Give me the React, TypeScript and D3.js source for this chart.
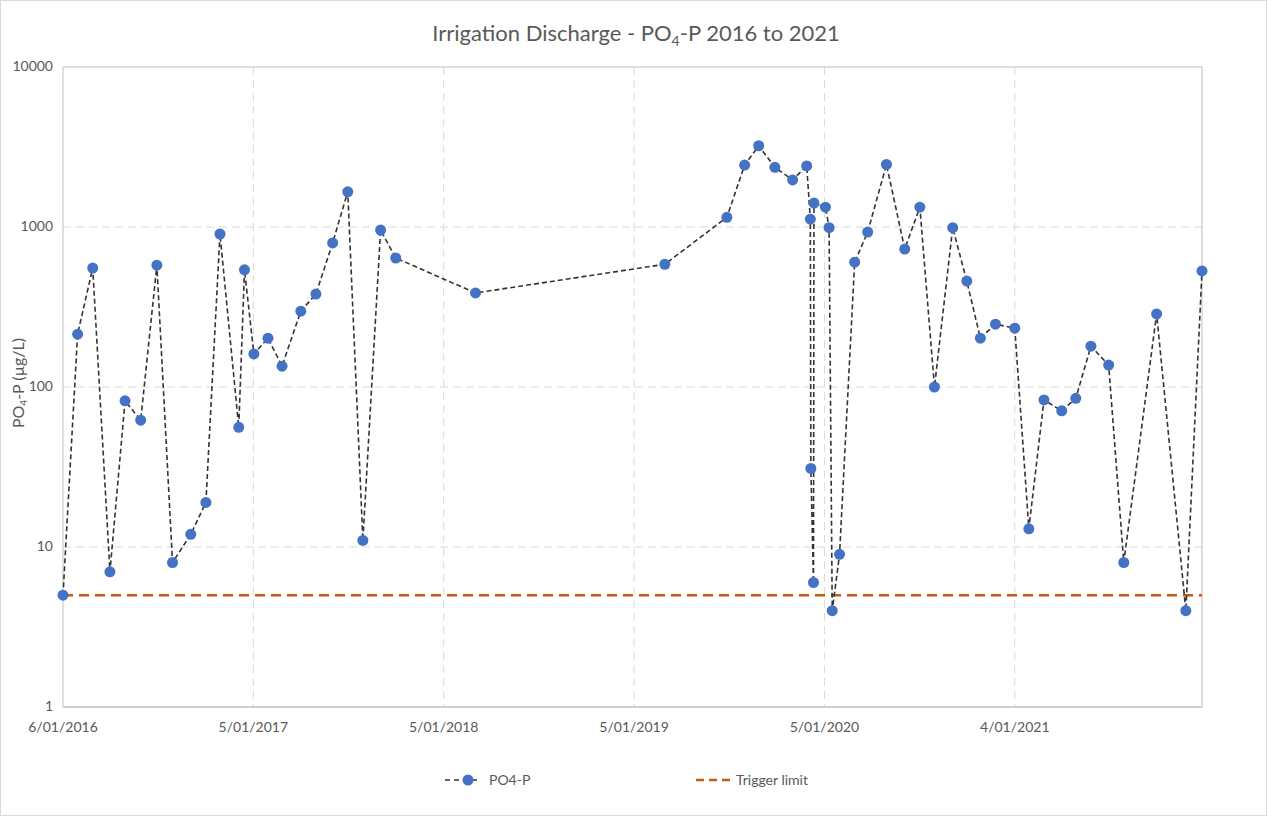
import React from "react";
import * as d3 from "d3";

const sampleDates: string[] = [
  "2016-01-06", "2016-02-03", "2016-03-03", "2016-04-05", "2016-05-04", "2016-06-03",
  "2016-07-04", "2016-08-03", "2016-09-07", "2016-10-06", "2016-11-02", "2016-12-08",
  "2016-12-19", "2017-01-06", "2017-02-02", "2017-03-01", "2017-04-06", "2017-05-05",
  "2017-06-06", "2017-07-05", "2017-08-03", "2017-09-06", "2017-10-05", "2018-03-07",
  "2019-03-05", "2019-07-02", "2019-08-05", "2019-09-01", "2019-10-02", "2019-11-05",
  "2019-12-02", "2019-12-09", "2019-12-10", "2019-12-15", "2019-12-16", "2020-01-07",
  "2020-01-14", "2020-01-20", "2020-02-03", "2020-03-03", "2020-03-28", "2020-05-03",
  "2020-06-07", "2020-07-06", "2020-08-03", "2020-09-07", "2020-10-04", "2020-10-30",
  "2020-11-28", "2021-01-04", "2021-01-31", "2021-03-01", "2021-04-04", "2021-05-01",
  "2021-05-30", "2021-07-03", "2021-08-01", "2021-10-03", "2021-11-28", "2021-12-29",
];

const po4Values: number[] = [
  5, 214, 554, 7, 82, 62,
  577, 8, 12, 19, 904, 56,
  540, 161, 202, 135, 298, 381,
  795, 1660, 11, 957, 640, 387,
  585, 1150, 2440, 3220, 2360, 1970,
  2410, 1120, 31, 6, 1410, 1330,
  990, 4, 9, 603, 930, 2460,
  728, 1330, 100, 990, 459, 202,
  247, 233, 13, 83, 71, 85,
  180, 137, 8, 286, 4, 531,
];

const triggerLimit = 5;
const xTickDates: string[] = ["2016-01-06", "2017-01-05", "2018-01-05", "2019-01-05", "2020-01-05", "2021-01-04"];
const xTickLabels: string[] = ["6/01/2016", "5/01/2017", "5/01/2018", "5/01/2019", "5/01/2020", "4/01/2021"];
const yTicks: number[] = [1, 10, 100, 1000, 10000];
const xDomain: string[] = ["2016-01-06", "2021-12-29"];

const W = 1267;
const H = 816;
const left = 63;
const right = 1202;
const top = 67;
const bottom = 707;
const FONT = "Lato, 'Open Sans', sans-serif";
const TXT = "#595959";

export default function App() {
  const parse = d3.utcParse("%Y-%m-%d");
  const x = d3
    .scaleUtc()
    .domain([parse(xDomain[0])!, parse(xDomain[1])!])
    .range([left, right]);
  const y = d3.scaleLog().domain([1, 10000]).range([bottom, top]);

  const pts = sampleDates.map((d, i) => ({ d: parse(d)!, v: po4Values[i] }));
  const line = d3
    .line<{ d: Date; v: number }>()
    .x((p) => x(p.d))
    .y((p) => y(p.v));

  return (
    <svg
      width={W}
      height={H}
      style={{ position: "absolute", left: 0, top: 0, background: "#fff" }}
      fontFamily={FONT}
    >
      <rect x={0.5} y={0.5} width={W - 1} height={H - 1} fill="#fff" stroke="#d9d9d9" />
      {/* title */}
      <text x={636} y={41} textAnchor="middle" fontSize={22} fill={TXT}>
        Irrigation Discharge - PO
        <tspan fontSize={14} dy={5}>4</tspan>
        <tspan dy={-5}>-P 2016 to 2021</tspan>
      </text>

      {/* gridlines */}
      {yTicks.slice(1, 4).map((t) => (
        <line key={"gy" + t} x1={left} x2={right} y1={y(t)} y2={y(t)} stroke="#d9d9d9" strokeDasharray="8,5" />
      ))}
      {xTickDates.slice(1).map((t) => (
        <line key={"gx" + t} x1={x(parse(t)!)} x2={x(parse(t)!)} y1={top} y2={bottom} stroke="#d9d9d9" strokeDasharray="8,5" />
      ))}

      {/* plot border */}
      <line x1={left} x2={right} y1={top} y2={top} stroke="#bfbfbf" />
      <line x1={right} x2={right} y1={top} y2={bottom} stroke="#bfbfbf" />
      <line x1={left} x2={left} y1={top} y2={bottom} stroke="#bfbfbf" />
      <line x1={left} x2={right} y1={bottom} y2={bottom} stroke="#bfbfbf" strokeWidth={1.5} />

      {/* y tick labels */}
      {yTicks.map((t) => (
        <text key={"yl" + t} x={53} y={y(t) + 4} textAnchor="end" fontSize={14} fill={TXT}>
          {t}
        </text>
      ))}
      {/* x tick labels */}
      {xTickDates.map((t, i) => (
        <text key={"xl" + t} x={x(parse(t)!)} y={732} textAnchor="middle" fontSize={14} fill={TXT}>
          {xTickLabels[i]}
        </text>
      ))}

      {/* y axis title */}
      <text
        transform={`translate(24, ${(top + bottom) / 2 - 4}) rotate(-90)`}
        textAnchor="middle"
        fontSize={16}
        fill={TXT}
      >
        PO<tspan fontSize={10} dy={3}>4</tspan>
        <tspan dy={-3}>-P (µg/L)</tspan>
      </text>

      {/* trigger limit */}
      <line
        x1={left}
        x2={right}
        y1={y(triggerLimit)}
        y2={y(triggerLimit)}
        stroke="#c55a11"
        strokeWidth={2.5}
        strokeDasharray="10,6"
      />

      {/* series */}
      <path d={line(pts) || ""} fill="none" stroke="#333333" strokeWidth={1.6} strokeDasharray="5,3" />
      {pts.map((p, i) => (
        <circle key={"pt" + i} cx={x(p.d)} cy={y(p.v)} r={5.5} fill="#4472c4" />
      ))}

      {/* legend */}
      <line x1={445} x2={477} y1={780} y2={780} stroke="#333333" strokeWidth={1.6} strokeDasharray="5,4" />
      <circle cx={468} cy={780} r={5.5} fill="#4472c4" />
      <text x={489} y={785} fontSize={14} fill={TXT}>PO4-P</text>
      <line x1={696} x2={732} y1={780} y2={780} stroke="#c55a11" strokeWidth={2.5} strokeDasharray="8,5" />
      <text x={736} y={785} fontSize={14} fill={TXT}>Trigger limit</text>
    </svg>
  );
}
